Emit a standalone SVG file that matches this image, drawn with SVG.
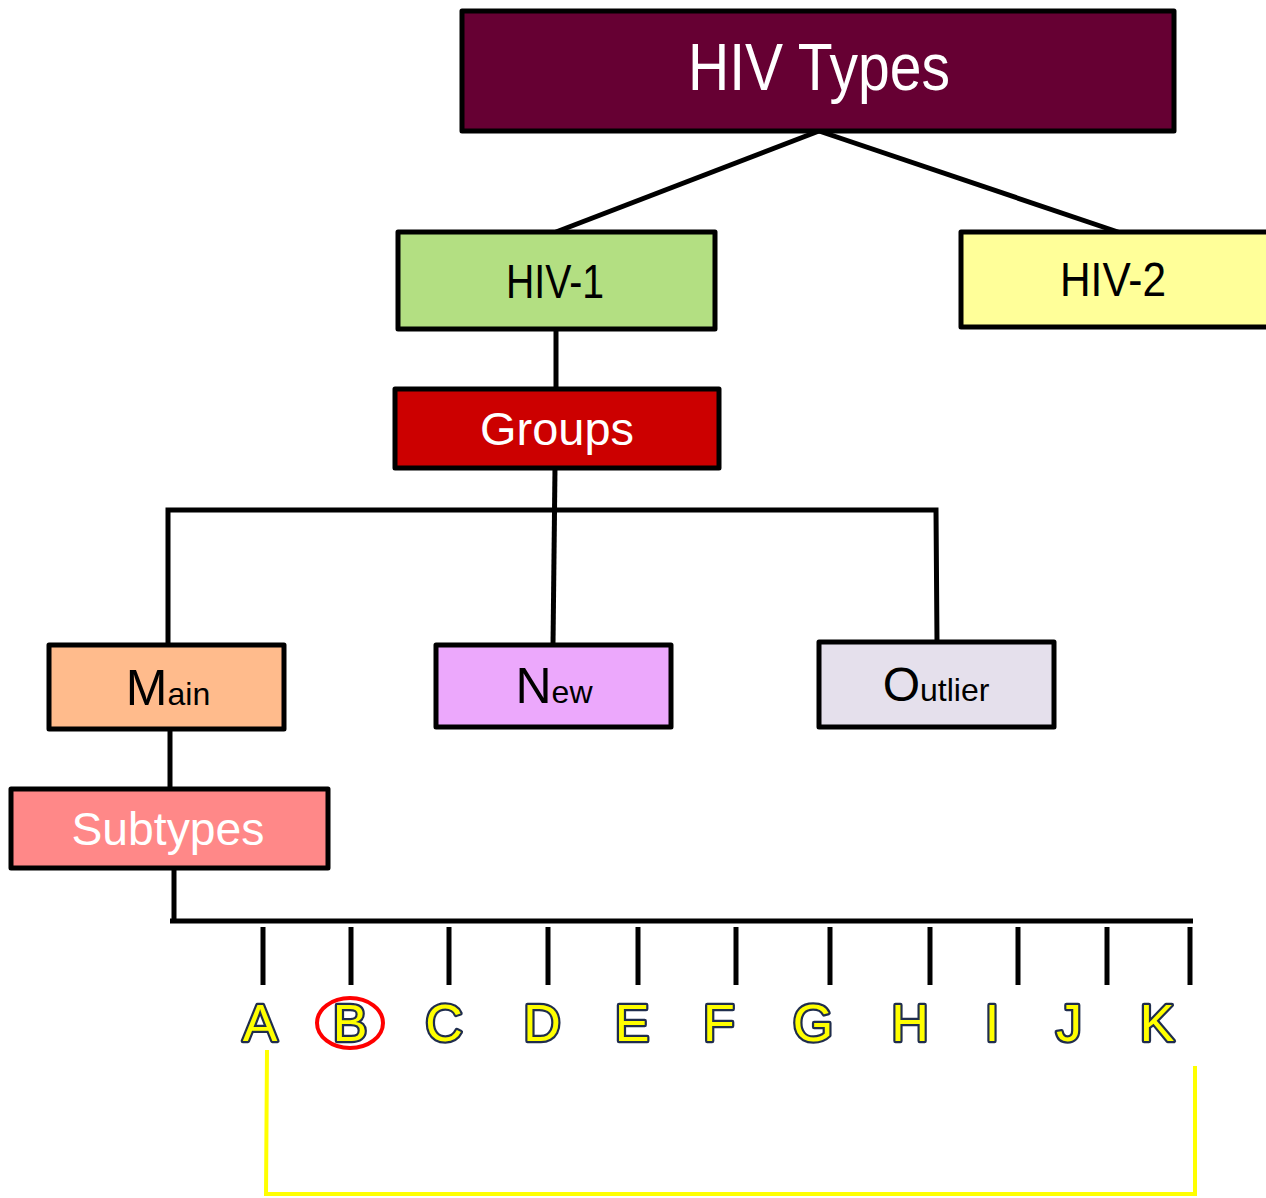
<svg xmlns="http://www.w3.org/2000/svg" width="1266" height="1198" viewBox="0 0 1266 1198">
<style>
.box{stroke:#000;stroke-width:5;stroke-linejoin:round}
.lbl{font-family:"Liberation Sans",Arial,sans-serif;text-anchor:middle}
.conn line,.conn path{stroke:#000;stroke-width:5;fill:none}
.tick{stroke:#000;stroke-width:4}
.let{font-family:"Liberation Sans",Arial,sans-serif;font-size:52px;text-anchor:middle;fill:#ffff00;stroke:#1f2d4d;stroke-width:4.5;stroke-linejoin:round;paint-order:stroke}
</style>
<rect width="1266" height="1198" fill="#fff"/>
<g class="conn" id="connectors">
<line x1="819" y1="131" x2="556" y2="232"/>
<line x1="819" y1="131" x2="1118" y2="232"/>
<line x1="556" y1="329" x2="556" y2="389"/>
<line x1="555" y1="468" x2="553" y2="645"/>
<path d="M168 645 V510 H936 L937 642"/>
<line x1="170" y1="729" x2="170" y2="789"/>
<path d="M174 868 V921 M170 921 H1193"/>
<g class="tick">
<line x1="263" y1="927" x2="263" y2="985"/>
<line x1="351" y1="927" x2="351" y2="985"/>
<line x1="449" y1="927" x2="449" y2="985"/>
<line x1="548" y1="927" x2="548" y2="985"/>
<line x1="638" y1="927" x2="638" y2="985"/>
<line x1="736" y1="927" x2="736" y2="985"/>
<line x1="830" y1="927" x2="830" y2="985"/>
<line x1="930" y1="927" x2="930" y2="985"/>
<line x1="1018" y1="927" x2="1018" y2="985"/>
<line x1="1107" y1="927" x2="1107" y2="985"/>
<line x1="1190" y1="927" x2="1190" y2="985"/>
</g>
</g>
<g id="hiv-types"><rect class="box" x="462" y="11" width="712" height="120" fill="#660033"/><text class="lbl" x="819" y="90" font-size="66" fill="#fff" textLength="262" lengthAdjust="spacingAndGlyphs">HIV Types</text></g>
<g id="hiv-1"><rect class="box" x="398" y="232" width="317" height="97" fill="#b3df82"/><text class="lbl" x="555" y="298" font-size="49" fill="#000" textLength="98" lengthAdjust="spacingAndGlyphs">HIV-1</text></g>
<g id="hiv-2"><rect class="box" x="961" y="232" width="312" height="95" fill="#ffff99"/><text class="lbl" x="1113" y="296" font-size="49" fill="#000" textLength="106" lengthAdjust="spacingAndGlyphs">HIV-2</text></g>
<g id="groups"><rect class="box" x="395" y="389" width="324" height="79" fill="#cc0000"/><text class="lbl" x="557" y="445" font-size="46" fill="#fff" textLength="154" lengthAdjust="spacingAndGlyphs">Groups</text></g>
<g id="main"><rect class="box" x="49" y="645" width="235" height="84" fill="#ffbb8c"/><text class="lbl" x="168" y="705" fill="#000"><tspan font-size="50">M</tspan><tspan font-size="32">ain</tspan></text></g>
<g id="new"><rect class="box" x="436" y="645" width="235" height="82" fill="#eca8fc"/><text class="lbl" x="554" y="703" fill="#000"><tspan font-size="50">N</tspan><tspan font-size="32">ew</tspan></text></g>
<g id="outlier"><rect class="box" x="819" y="642" width="235" height="85" fill="#e5e0ec"/><text class="lbl" x="936" y="701" fill="#000"><tspan font-size="48">O</tspan><tspan font-size="32">utlier</tspan></text></g>
<g id="subtypes"><rect class="box" x="11" y="789" width="317" height="79" fill="#ff8888"/><text class="lbl" x="168" y="845" font-size="46" fill="#fff" textLength="193" lengthAdjust="spacingAndGlyphs">Subtypes</text></g>
<g id="letters">
<text class="let" x="260" y="1041">A</text>
<text class="let" x="350" y="1041">B</text>
<text class="let" x="444" y="1041">C</text>
<text class="let" x="542" y="1041">D</text>
<text class="let" x="632" y="1041">E</text>
<text class="let" x="719" y="1041">F</text>
<text class="let" x="813" y="1041">G</text>
<text class="let" x="910" y="1041">H</text>
<text class="let" x="992" y="1041">I</text>
<text class="let" x="1069" y="1041">J</text>
<text class="let" x="1157" y="1041">K</text>
</g>
<ellipse cx="350" cy="1023" rx="33" ry="25" fill="none" stroke="#ff0000" stroke-width="4"/>
<path d="M267 1050 L266 1194 H1195 L1195 1066" fill="none" stroke="#ffff00" stroke-width="4"/>
</svg>
